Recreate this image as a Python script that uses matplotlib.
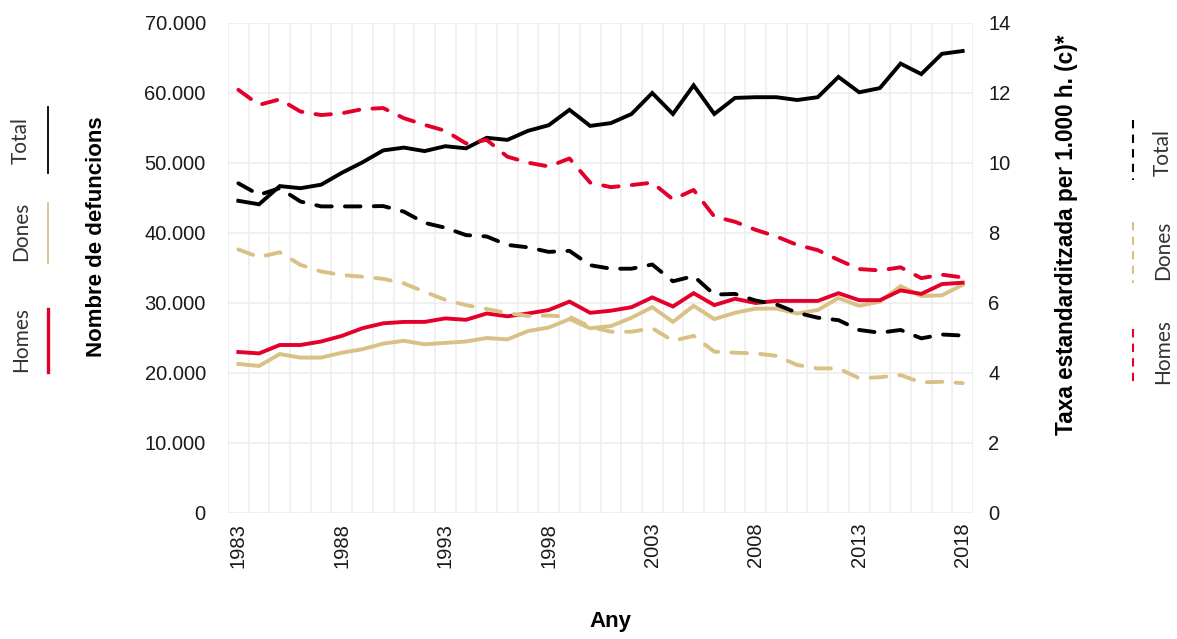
import matplotlib.pyplot as plt
from matplotlib.lines import Line2D
from matplotlib.ticker import FuncFormatter, FixedLocator

plt.rcParams['font.family'] = ['Liberation Sans', 'DejaVu Sans']

# dades
years = list(range(1983, 2019))
total = [44600, 44100, 46700, 46400, 46900, 48600, 50100, 51800, 52200, 51700,
         52400, 52100, 53600, 53300, 54600, 55400, 57600, 55300, 55700, 57000,
         60000, 57000, 61100, 57000, 59300, 59400, 59400, 59000, 59400, 62300,
         60100, 60700, 64200, 62700, 65600, 66000]
homes = [23000, 22800, 24000, 24000, 24500, 25300, 26400, 27100, 27300, 27300,
         27800, 27600, 28500, 28100, 28500, 29000, 30200, 28600, 28900, 29400,
         30800, 29500, 31400, 29700, 30600, 30000, 30300, 30300, 30300, 31400,
         30400, 30400, 31800, 31300, 32700, 32900]
dones = [21300, 21000, 22700, 22200, 22200, 22900, 23400, 24200, 24600, 24100,
         24300, 24500, 25000, 24800, 26000, 26500, 27700, 26400, 26700, 27900,
         29400, 27300, 29600, 27700, 28600, 29200, 29200, 28500, 29000, 30700,
         29600, 30200, 32400, 31000, 31100, 32600]
taxa_total = [9.42, 9.09, 9.28, 8.90, 8.76, 8.76, 8.76, 8.77, 8.61, 8.29,
              8.15, 7.94, 7.90, 7.66, 7.59, 7.46, 7.49, 7.08, 6.98, 6.98,
              7.10, 6.62, 6.77, 6.24, 6.26, 6.07, 5.96, 5.72, 5.58, 5.51,
              5.23, 5.15, 5.23, 4.99, 5.10, 5.07]
taxa_homes = [12.09, 11.66, 11.82, 11.47, 11.37, 11.42, 11.54, 11.57, 11.28, 11.09,
              10.92, 10.56, 10.66, 10.18, 10.01, 9.90, 10.13, 9.44, 9.31, 9.37,
              9.44, 8.96, 9.23, 8.47, 8.32, 8.09, 7.90, 7.66, 7.51, 7.23,
              6.97, 6.93, 7.02, 6.71, 6.81, 6.73]
taxa_dones = [7.53, 7.31, 7.45, 7.09, 6.90, 6.80, 6.75, 6.69, 6.56, 6.32,
              6.09, 5.94, 5.83, 5.71, 5.63, 5.64, 5.61, 5.32, 5.18, 5.18,
              5.28, 4.92, 5.06, 4.61, 4.58, 4.56, 4.49, 4.23, 4.13, 4.13,
              3.85, 3.88, 3.94, 3.73, 3.75, 3.71]
noms = ['Total', 'Dones', 'Homes']
colors = {'Total': '#000000', 'Dones': '#d9c185', 'Homes': '#e3002b'}
year_ticks = [1983, 1988, 1993, 1998, 2003, 2008, 2013, 2018]

W, H = 1177, 639
fig = plt.figure(figsize=(W / 100, H / 100), dpi=100)
ax = fig.add_axes([228 / W, 1 - 513 / H, (973 - 228) / W, (513 - 23) / H])
ax2 = ax.twinx()

# linies continues: nombre de defuncions
for nom, vals in zip(noms, [total, dones, homes]):
    ax.plot(years, vals, color=colors[nom], lw=2.8, solid_joinstyle='miter')
ax.set_zorder(1)

# linies discontinues: taxa
for nom, vals in zip(noms, [taxa_total, taxa_dones, taxa_homes]):
    ax2.plot(years, vals, color=colors[nom], lw=2.8, dashes=(4, 3.4),
             dash_capstyle='round')
ax2.set_zorder(2)
ax.patch.set_visible(False)

ax.set_xlim(1982.5, 2018.5)
ax.set_ylim(0, 70000)
ax2.set_ylim(0, 14)
ax.set_yticks(range(0, 70001, 10000))
ax2.set_yticks(range(0, 15, 2))
ax.yaxis.set_major_formatter(FuncFormatter(lambda v, p: f'{int(v):,}'.replace(',', '.')))
ax.set_xticks(year_ticks)
ax.set_xticklabels([str(y) for y in year_ticks], rotation=90)
ax.xaxis.set_minor_locator(FixedLocator([y + 0.5 for y in range(1982, 2019)]))
ax.grid(True, which='minor', axis='x', color='#eeeeee', lw=1.2)
ax.grid(True, which='major', axis='y', color='#eeeeee', lw=1.2)
ax.set_axisbelow(True)
for a in (ax, ax2):
    for s in a.spines.values():
        s.set_visible(False)
ax.tick_params(axis='both', which='both', length=0, labelsize=14.5, colors='#1a1a1a')
ax.tick_params(axis='y', pad=16)
ax.tick_params(axis='x', pad=7)
ax2.tick_params(axis='y', length=0, labelsize=14.5, colors='#1a1a1a', pad=11)

# titols d'eixos
fig.text(97 / W, 1 - 237 / H, 'Nombre de defuncions', rotation=90, ha='center',
         va='center', fontsize=16, fontweight='bold')
fig.text(1066 / W, 1 - 235 / H, 'Taxa estandarditzada per 1.000 h. (c)*', rotation=90,
         ha='center', va='center', fontsize=16.3, fontweight='bold')
fig.text(610 / W, 1 - 622 / H, 'Any', ha='center', va='center', fontsize=16,
         fontweight='bold')

# llegendes
left_leg = {'Total': (140, 107, 173, 1.3), 'Dones': (231, 203, 263, 1.3),
            'Homes': (340, 309, 372, 2.4)}
for nom, (yc, y0, y1, lw) in left_leg.items():
    fig.text(21 / W, 1 - yc / H, nom, rotation=90, ha='center', va='center',
             fontsize=15, family=['Lato', 'DejaVu Sans'], color='#333333')
    fig.add_artist(Line2D([47.5 / W, 47.5 / W], [1 - y0 / H, 1 - y1 / H],
                          color=colors[nom], lw=lw, transform=fig.transFigure))

right_leg = {'Total': (153, 120, 180), 'Dones': (250, 222, 283),
             'Homes': (352, 329, 387)}
for nom, (yc, y0, y1) in right_leg.items():
    fig.text(1163 / W, 1 - yc / H, nom, rotation=90, ha='center', va='center',
             fontsize=15, family=['Lato', 'DejaVu Sans'], color='#333333')
    fig.add_artist(Line2D([1133 / W, 1133 / W], [1 - y0 / H, 1 - y1 / H],
                          color=colors[nom], lw=1.5, dashes=(4, 3),
                          transform=fig.transFigure))

fig.savefig('out.png', dpi=100)
